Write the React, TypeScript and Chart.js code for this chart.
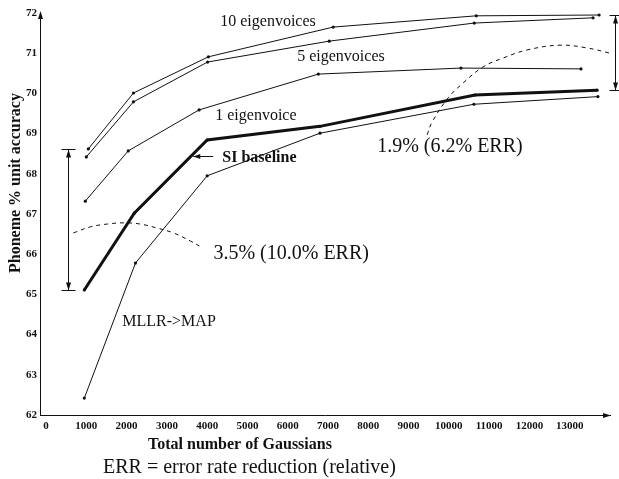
import React, { useEffect, useRef } from "react";
import { Chart, registerables } from "chart.js";

Chart.register(...registerables);

// ---- data ----
const eig10X = [1050, 2170, 4030, 7130, 10680, 13730];
const eig10Y = [68.62, 70.01, 70.91, 71.65, 71.93, 71.95];

const eig5X = [1000, 2170, 4010, 7030, 10630, 13580];
const eig5Y = [68.42, 69.79, 70.78, 71.3, 71.75, 71.88];

const eig1X = [975, 2040, 3800, 6760, 10300, 13280];
const eig1Y = [67.32, 68.57, 69.59, 70.48, 70.63, 70.61];

const siX = [950, 2190, 4000, 6800, 10650, 13680];
const siY = [65.11, 67.02, 68.84, 69.18, 69.96, 70.08];

const mllrX = [950, 2220, 4000, 6800, 10620, 13700];
const mllrY = [62.42, 65.78, 67.95, 69.01, 69.73, 69.92];

const leftDashX = [680, 1100, 1520, 1920, 2340, 2760, 3160, 3580, 3880];
const leftDashY = [66.53, 66.68, 66.75, 66.78, 66.75, 66.65, 66.53, 66.33, 66.16];

const rightDashX = [9460, 9585, 9983, 10355, 10851, 11347, 11943, 12762, 13432, 14003];
const rightDashY = [68.97, 69.29, 69.89, 70.26, 70.66, 70.88, 71.08, 71.2, 71.13, 71.0];

const xTickValues = [0, 1000, 2000, 3000, 4000, 5000, 6000, 7000, 8000, 9000, 10000, 11000, 12000, 13000];
const yTickValues = [62, 63, 64, 65, 66, 67, 68, 69, 70, 71, 72];

const annotationTexts = [
  "10 eigenvoices",
  "5 eigenvoices",
  "1 eigenvoice",
  "SI baseline",
  "MLLR->MAP",
  "3.5% (10.0% ERR)",
  "1.9% (6.2% ERR)",
];
const yAxisTitle = "Phoneme % unit accuracy";
const xAxisTitle = "Total number of Gaussians";
const footnote = "ERR = error rate reduction (relative)";

// ---- layout of annotations (anchors in data units, baseline-left) ----
const annAnchorX = [4325, 6235, 4200, 4375, 1893, 4155, 8220];
const annAnchorY = [71.68, 70.81, 69.35, 68.29, 64.21, 65.88, 68.55];
const annBold = [false, false, false, true, false, false, false];
const annSize = [16, 16, 16, 16, 16, 20, 20];
const leftRangeX = 553;
const rightRangeX = 14127;
const siPointerY = 68.44;
const siPointerFromX = 4150;
const siPointerToX = 3655;

const SERIF = '"Liberation Serif", "Times New Roman", serif';
const INK = "#111";

const toPts = (xs: number[], ys: number[]) => xs.map((x, i) => ({ x, y: ys[i] }));

function arrowHead(ctx: CanvasRenderingContext2D, x: number, y: number, dx: number, dy: number, len = 7, half = 2.6) {
  const l = Math.hypot(dx, dy);
  const ux = dx / l, uy = dy / l;
  const bx = x - ux * len, by = y - uy * len;
  ctx.beginPath();
  ctx.moveTo(x, y);
  ctx.lineTo(bx - uy * half, by + ux * half);
  ctx.lineTo(bx + uy * half, by - ux * half);
  ctx.closePath();
  ctx.fill();
}

const annotationPlugin = {
  id: "annotations",
  afterDatasetsDraw(chart: any) {
    const { ctx, chartArea } = chart;
    const sx = chart.scales.x, sy = chart.scales.y;
    const px = (v: number) => sx.getPixelForValue(v);
    const py = (v: number) => sy.getPixelForValue(v);
    ctx.save();
    ctx.fillStyle = INK;
    ctx.strokeStyle = INK;
    ctx.lineWidth = 1;

    // axis arrowheads
    arrowHead(ctx, chartArea.left + 0.5, chartArea.top - 2, 0, -1, 8, 2.5);
    arrowHead(ctx, chartArea.right + 1, chartArea.bottom + 0.5, 1, 0, 8, 2.5);

    // range arrows
    const ranges = [
      { x: leftRangeX, y0: siY[0], y1: eig10Y[0], half: 7 },
      { x: rightRangeX, y0: siY[siY.length - 1], y1: eig10Y[eig10Y.length - 1], half: 6 },
    ];
    for (const r of ranges) {
      const x = Math.round(px(r.x)) + 0.5;
      const yTop = Math.round(py(r.y1)) + 0.5;
      const yBot = Math.round(py(r.y0)) + 0.5;
      ctx.beginPath();
      ctx.moveTo(x, yTop);
      ctx.lineTo(x, yBot);
      ctx.moveTo(x - r.half, yTop);
      ctx.lineTo(x + r.half, yTop);
      ctx.moveTo(x - r.half, yBot);
      ctx.lineTo(x + r.half, yBot);
      ctx.stroke();
      arrowHead(ctx, x, yTop, 0, -1, 8, 2.5);
      arrowHead(ctx, x, yBot, 0, 1, 8, 2.5);
    }

    // SI baseline pointer
    const pyS = Math.round(py(siPointerY)) + 0.5;
    ctx.beginPath();
    ctx.moveTo(px(siPointerFromX), pyS);
    ctx.lineTo(px(siPointerToX), pyS);
    ctx.stroke();
    arrowHead(ctx, px(siPointerToX), pyS, -1, 0, 7, 2.5);

    // annotation texts
    ctx.textAlign = "left";
    ctx.textBaseline = "alphabetic";
    annotationTexts.forEach((t, i) => {
      ctx.font = `${annBold[i] ? "bold " : ""}${annSize[i]}px ${SERIF}`;
      ctx.fillText(t, px(annAnchorX[i]), py(annAnchorY[i]));
    });

    // axis titles and footnote
    ctx.font = `bold 16px ${SERIF}`;
    ctx.fillText(xAxisTitle, 148, 449);
    ctx.font = `20px ${SERIF}`;
    ctx.fillText(footnote, 103, 473);
    ctx.save();
    ctx.translate(20, 273);
    ctx.rotate(-Math.PI / 2);
    ctx.font = `bold 16px ${SERIF}`;
    ctx.fillText(yAxisTitle, 0, 0);
    ctx.restore();

    ctx.restore();
  },
};

export default function App() {
  const canvasRef = useRef<HTMLCanvasElement | null>(null);

  useEffect(() => {
    const canvas = canvasRef.current;
    if (!canvas) return;

    const seriesStyle = (width: number) => ({
      borderColor: INK,
      backgroundColor: INK,
      borderWidth: width,
      pointRadius: 1.6,
      pointHoverRadius: 1.6,
      pointBorderWidth: 0,
      pointBackgroundColor: INK,
      tension: 0,
      fill: false,
      clip: false as any,
    });
    const dashStyle = {
      borderColor: INK,
      borderWidth: 1,
      borderDash: [4, 4],
      pointRadius: 0,
      tension: 0.4,
      fill: false,
      clip: false as any,
    };

    const chart = new Chart(canvas, {
      type: "line",
      data: {
        datasets: [
          { label: "10 eigenvoices", data: toPts(eig10X, eig10Y), ...seriesStyle(1) },
          { label: "5 eigenvoices", data: toPts(eig5X, eig5Y), ...seriesStyle(1) },
          { label: "1 eigenvoice", data: toPts(eig1X, eig1Y), ...seriesStyle(1) },
          { label: "SI baseline", data: toPts(siX, siY), ...seriesStyle(3) },
          { label: "MLLR->MAP", data: toPts(mllrX, mllrY), ...seriesStyle(1) },
          { label: "gain small", data: toPts(leftDashX, leftDashY), ...dashStyle },
          { label: "gain large", data: toPts(rightDashX, rightDashY), ...dashStyle },
        ],
      },
      options: {
        responsive: false,
        animation: false,
        events: [],
        layout: { padding: { top: 13, right: 9, left: 0, bottom: 0 } },
        plugins: {
          legend: { display: false },
          tooltip: { enabled: false },
          title: { display: false },
        },
        scales: {
          x: {
            type: "linear",
            min: -150,
            max: 14000,
            grid: { display: false, drawTicks: false },
            border: { display: true, color: INK, width: 1 },
            afterBuildTicks: (scale: any) => {
              scale.ticks = xTickValues.map((v) => ({ value: v }));
            },
            afterFit: (scale: any) => {
              scale.height = 64;
            },
            ticks: {
              autoSkip: false,
              maxRotation: 0,
              padding: 5,
              color: INK,
              font: { family: SERIF, size: 11, weight: "bold" },
              callback: (v: any) => String(v),
            },
          },
          y: {
            type: "linear",
            min: 62,
            max: 72,
            grid: { display: false, drawTicks: false },
            border: { display: true, color: INK, width: 1 },
            afterBuildTicks: (scale: any) => {
              scale.ticks = yTickValues.map((v) => ({ value: v }));
            },
            afterFit: (scale: any) => {
              scale.width = 40;
            },
            ticks: {
              padding: 3,
              color: INK,
              font: { family: SERIF, size: 11, weight: "bold" },
              callback: (v: any) => String(v),
            },
          },
        },
      },
      plugins: [annotationPlugin],
    });

    return () => chart.destroy();
  }, []);

  return (
    <div style={{ position: "fixed", left: 0, top: 0, width: 619, height: 479, background: "#fff" }}>
      <canvas ref={canvasRef} width={619} height={479} style={{ display: "block" }} />
    </div>
  );
}
